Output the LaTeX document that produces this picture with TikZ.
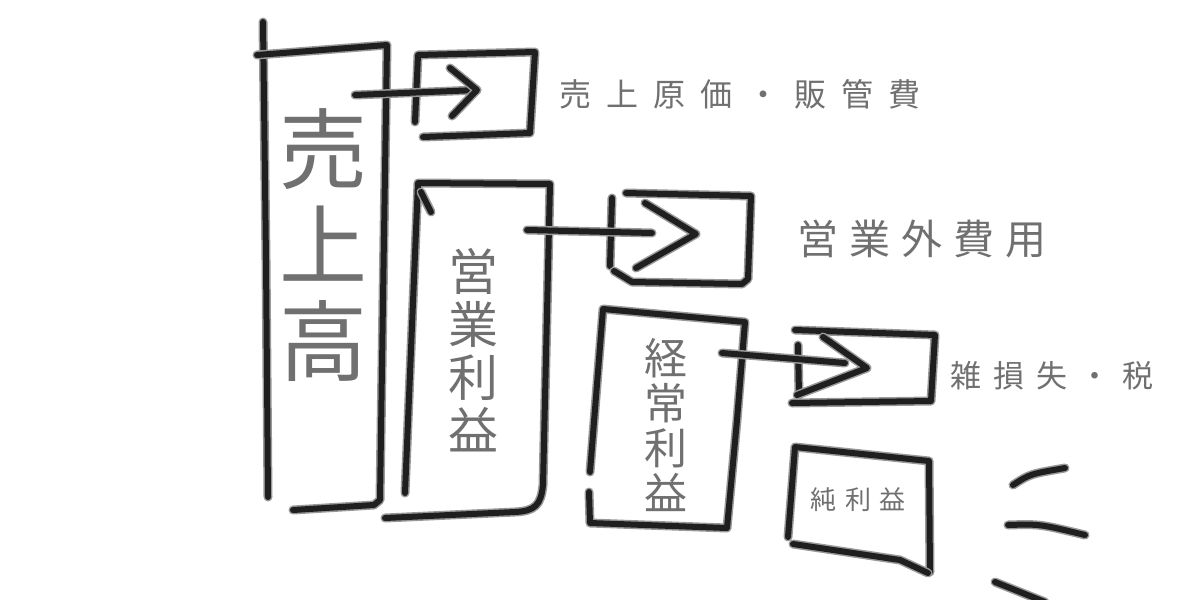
\documentclass[tikz,border=0pt]{standalone}
\usepackage{fontspec}
\setmainfont{Noto Sans CJK JP}
\definecolor{txtc}{RGB}{112,112,112}
\begin{document}
\begin{tikzpicture}[x=1pt,y=-1pt,
  pen/.style={draw=black!40, line width=9pt, line cap=round, line join=round,
              postaction={draw=black!88, line width=6pt, line cap=round, line join=round}},
  txt/.style={text=txtc, inner sep=0pt, align=center}]
\useasboundingbox[fill=white] (0,0) rectangle (1200,600);

% ---------- boxes ----------
% sales box
\draw[pen] (263,22) -- (266,260) -- (268,497);
\draw[pen] (257,55) -- (387,45) -- (383,300) -- (380,500) -- (374,505) -- (293,510);
% cost box
\draw[pen] (415,122) -- (418,55) -- (535,52) -- (530,133) -- (423,137);
% operating profit box
\draw[pen] (405,493) -- (418,183) -- (550,184) -- (543,485)
  .. controls (541,505) and (535,511) .. (515,512) -- (385,518);
\draw[pen] (421,192) -- (431,212);
% non-operating box
\draw[pen] (612,198) -- (610,266);
\draw[pen] (626,193) -- (751,196) -- (748,279) -- (742,284) -- (632,282) -- (614,271);
% ordinary profit box
\draw[pen] (590,472) -- (603,309) -- (745,322) -- (737,420) -- (727,528) -- (590,523) -- (589,492);
% misc loss box
\draw[pen] (798,345) -- (799,395);
\draw[pen] (795,330) -- (935,335) -- (931,401) -- (792,403);
% net profit box
\draw[pen] (788,537) -- (795,447) -- (929,461) -- (930,572);
\draw[pen] (793,544) -- (900,560) -- (928,573);

% ---------- arrows ----------
\coordinate (a1s) at (355,95);  \coordinate (a1e) at (477,90);
\coordinate (a2s) at (527,230); \coordinate (a2e) at (696,234);
\coordinate (a3s) at (722,353); \coordinate (a3e) at (867,368);
\draw[pen] (a1s) -- (a1e);
\draw[pen] (450,68) -- (a1e) -- (452,116);
\draw[pen] (a2s) -- (652,233);
\draw[pen] (645,203) -- (a2e) -- (636,268);
\draw[pen] (a3s) -- (845,363);
\draw[pen] (823,337) -- (a3e) -- (797,395);

% ---------- strokes ----------
\draw[pen] (1013,485) .. controls (1030,474) .. (1065,468);
\draw[pen] (1008,525) .. controls (1040,524) .. (1085,535);
\draw[pen] (995,582) -- (1045,602);

% ---------- texts ----------
\node[txt, font=\fontsize{88}{96}\selectfont] (sales) at (323,245) {売\\上\\高};
\node[txt, font=\fontsize{50}{53}\selectfont] (op) at (473,350) {営\\業\\利\\益};
\node[txt, font=\fontsize{43}{45}\selectfont] (ord) at (666,425) {経\\常\\利\\益};
\node[txt, font=\fontsize{26}{30}\selectfont] (net) at (858,500) {純\hspace{9pt}利\hspace{9pt}益};
\node[txt, font=\fontsize{32}{36}\selectfont] (cost) at (740,94)
  {売\hspace{15pt}上\hspace{15pt}原\hspace{15pt}価\hspace{15pt}・\hspace{15pt}販\hspace{15pt}管\hspace{15pt}費};
\node[txt, font=\fontsize{41}{45}\selectfont] (nonop) at (922,239)
  {営\hspace{11pt}業\hspace{11pt}外\hspace{11pt}費\hspace{11pt}用};
\node[txt, font=\fontsize{31}{35}\selectfont] (misc) at (1052,376)
  {雑\hspace{12pt}損\hspace{12pt}失\hspace{12pt}・\hspace{12pt}税};
\end{tikzpicture}
\end{document}
